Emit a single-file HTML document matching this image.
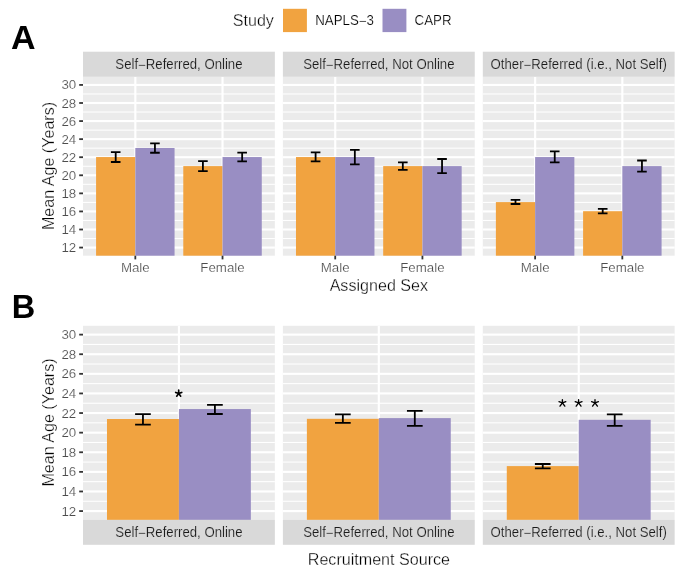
<!DOCTYPE html><html><head><meta charset="utf-8"><style>html,body{margin:0;padding:0;background:#fff;}svg{display:block;will-change:transform}text{font-family:"Liberation Sans",sans-serif;}text.w{stroke:#fff;stroke-width:0.3px}text.t{stroke:#fff;stroke-width:0.18px}text.g{stroke:#d9d9d9;stroke-width:0.18px}</style></head><body>
<svg width="685" height="565" viewBox="0 0 685 565">
<rect width="685" height="565" fill="#fff"/>
<text x="273.9" y="26.2" font-size="16.1" text-anchor="end" fill="#000" class="w">Study</text>
<rect x="283.0" y="8.8" width="23.9" height="23.3" fill="#f1a340"/>
<text transform="translate(315.2 25.0) scale(1 1.06)" font-size="13.3" fill="#000" class="t">NAPLS<tspan dy="0.75">−</tspan><tspan dy="-0.75">3</tspan></text>
<rect x="382.5" y="8.8" width="23.9" height="23.3" fill="#998ec3"/>
<text transform="translate(414.6 25.0) scale(1 1.06)" font-size="13.3" fill="#000" class="t">CAPR</text>
<text x="23.35" y="48.9" font-size="33.2" font-weight="bold" fill="#000" text-anchor="middle" transform="translate(23.35 0) scale(1.025 1) translate(-23.35 0)">A</text>
<text x="11.8" y="317.7" font-size="32.5" font-weight="bold" fill="#000">B</text>
<rect x="83.0" y="76.8" width="191.85" height="178.89999999999998" fill="#ebebeb"/>
<rect x="83.0" y="238.00" width="191.85" height="1.06" fill="#fff"/>
<rect x="83.0" y="219.93" width="191.85" height="1.06" fill="#fff"/>
<rect x="83.0" y="201.86" width="191.85" height="1.06" fill="#fff"/>
<rect x="83.0" y="183.79" width="191.85" height="1.06" fill="#fff"/>
<rect x="83.0" y="165.72" width="191.85" height="1.06" fill="#fff"/>
<rect x="83.0" y="147.65" width="191.85" height="1.06" fill="#fff"/>
<rect x="83.0" y="129.58" width="191.85" height="1.06" fill="#fff"/>
<rect x="83.0" y="111.51" width="191.85" height="1.06" fill="#fff"/>
<rect x="83.0" y="93.44" width="191.85" height="1.06" fill="#fff"/>
<rect x="83.0" y="246.51" width="191.85" height="2.13" fill="#fff"/>
<rect x="83.0" y="228.44" width="191.85" height="2.13" fill="#fff"/>
<rect x="83.0" y="210.37" width="191.85" height="2.13" fill="#fff"/>
<rect x="83.0" y="192.30" width="191.85" height="2.13" fill="#fff"/>
<rect x="83.0" y="174.23" width="191.85" height="2.13" fill="#fff"/>
<rect x="83.0" y="156.15" width="191.85" height="2.13" fill="#fff"/>
<rect x="83.0" y="138.08" width="191.85" height="2.13" fill="#fff"/>
<rect x="83.0" y="120.01" width="191.85" height="2.13" fill="#fff"/>
<rect x="83.0" y="101.94" width="191.85" height="2.13" fill="#fff"/>
<rect x="83.0" y="83.87" width="191.85" height="2.13" fill="#fff"/>
<rect x="134.26" y="76.8" width="2.13" height="178.89999999999998" fill="#fff"/>
<rect x="221.47" y="76.8" width="2.13" height="178.89999999999998" fill="#fff"/>
<rect x="96.08" y="157.05" width="39.24" height="98.65" fill="#f1a340"/>
<rect x="135.32" y="148.00" width="39.24" height="107.70" fill="#998ec3"/>
<rect x="183.29" y="166.10" width="39.24" height="89.60" fill="#f1a340"/>
<rect x="222.53" y="157.05" width="39.24" height="98.65" fill="#998ec3"/>
<path d="M110.90 152.20H120.50M115.70 152.20V162.00M110.90 162.00H120.50" stroke="#000" stroke-width="1.8" fill="none"/>
<path d="M150.14 143.40H159.74M154.94 143.40V152.75M150.14 152.75H159.74" stroke="#000" stroke-width="1.8" fill="none"/>
<path d="M198.11 161.10H207.71M202.91 161.10V171.10M198.11 171.10H207.71" stroke="#000" stroke-width="1.8" fill="none"/>
<path d="M237.35 152.60H246.95M242.15 152.60V161.30M237.35 161.30H246.95" stroke="#000" stroke-width="1.8" fill="none"/>
<rect x="83.0" y="51.7" width="191.85" height="25.099999999999994" fill="#d9d9d9"/>
<text transform="translate(178.93 68.95) scale(1 1.1)" font-size="13.2" text-anchor="middle" fill="#1a1a1a" class="g">Self<tspan dy="0.75">−</tspan><tspan dy="-0.75">Referred, Online</tspan></text>
<rect x="134.42" y="255.7" width="1.8" height="3.7" fill="#333"/>
<text x="135.32" y="272.1" font-size="13.3" text-anchor="middle" fill="#4d4d4d" class="t">Male</text>
<rect x="221.63" y="255.7" width="1.8" height="3.7" fill="#333"/>
<text x="222.53" y="272.1" font-size="13.3" text-anchor="middle" fill="#4d4d4d" class="t">Female</text>
<rect x="79.2" y="246.67" width="3.8" height="1.8" fill="#333"/>
<text x="76.2" y="252.07" font-size="13.3" text-anchor="end" fill="#4d4d4d" class="t">12</text>
<rect x="79.2" y="228.60" width="3.8" height="1.8" fill="#333"/>
<text x="76.2" y="234.00" font-size="13.3" text-anchor="end" fill="#4d4d4d" class="t">14</text>
<rect x="79.2" y="210.53" width="3.8" height="1.8" fill="#333"/>
<text x="76.2" y="215.93" font-size="13.3" text-anchor="end" fill="#4d4d4d" class="t">16</text>
<rect x="79.2" y="192.46" width="3.8" height="1.8" fill="#333"/>
<text x="76.2" y="197.86" font-size="13.3" text-anchor="end" fill="#4d4d4d" class="t">18</text>
<rect x="79.2" y="174.39" width="3.8" height="1.8" fill="#333"/>
<text x="76.2" y="179.79" font-size="13.3" text-anchor="end" fill="#4d4d4d" class="t">20</text>
<rect x="79.2" y="156.31" width="3.8" height="1.8" fill="#333"/>
<text x="76.2" y="161.71" font-size="13.3" text-anchor="end" fill="#4d4d4d" class="t">22</text>
<rect x="79.2" y="138.24" width="3.8" height="1.8" fill="#333"/>
<text x="76.2" y="143.64" font-size="13.3" text-anchor="end" fill="#4d4d4d" class="t">24</text>
<rect x="79.2" y="120.17" width="3.8" height="1.8" fill="#333"/>
<text x="76.2" y="125.57" font-size="13.3" text-anchor="end" fill="#4d4d4d" class="t">26</text>
<rect x="79.2" y="102.10" width="3.8" height="1.8" fill="#333"/>
<text x="76.2" y="107.50" font-size="13.3" text-anchor="end" fill="#4d4d4d" class="t">28</text>
<rect x="79.2" y="84.03" width="3.8" height="1.8" fill="#333"/>
<text x="76.2" y="89.43" font-size="13.3" text-anchor="end" fill="#4d4d4d" class="t">30</text>
<rect x="282.9" y="76.8" width="191.85" height="178.89999999999998" fill="#ebebeb"/>
<rect x="282.9" y="238.00" width="191.85" height="1.06" fill="#fff"/>
<rect x="282.9" y="219.93" width="191.85" height="1.06" fill="#fff"/>
<rect x="282.9" y="201.86" width="191.85" height="1.06" fill="#fff"/>
<rect x="282.9" y="183.79" width="191.85" height="1.06" fill="#fff"/>
<rect x="282.9" y="165.72" width="191.85" height="1.06" fill="#fff"/>
<rect x="282.9" y="147.65" width="191.85" height="1.06" fill="#fff"/>
<rect x="282.9" y="129.58" width="191.85" height="1.06" fill="#fff"/>
<rect x="282.9" y="111.51" width="191.85" height="1.06" fill="#fff"/>
<rect x="282.9" y="93.44" width="191.85" height="1.06" fill="#fff"/>
<rect x="282.9" y="246.51" width="191.85" height="2.13" fill="#fff"/>
<rect x="282.9" y="228.44" width="191.85" height="2.13" fill="#fff"/>
<rect x="282.9" y="210.37" width="191.85" height="2.13" fill="#fff"/>
<rect x="282.9" y="192.30" width="191.85" height="2.13" fill="#fff"/>
<rect x="282.9" y="174.23" width="191.85" height="2.13" fill="#fff"/>
<rect x="282.9" y="156.15" width="191.85" height="2.13" fill="#fff"/>
<rect x="282.9" y="138.08" width="191.85" height="2.13" fill="#fff"/>
<rect x="282.9" y="120.01" width="191.85" height="2.13" fill="#fff"/>
<rect x="282.9" y="101.94" width="191.85" height="2.13" fill="#fff"/>
<rect x="282.9" y="83.87" width="191.85" height="2.13" fill="#fff"/>
<rect x="334.16" y="76.8" width="2.13" height="178.89999999999998" fill="#fff"/>
<rect x="421.37" y="76.8" width="2.13" height="178.89999999999998" fill="#fff"/>
<rect x="295.98" y="157.05" width="39.24" height="98.65" fill="#f1a340"/>
<rect x="335.22" y="157.05" width="39.24" height="98.65" fill="#998ec3"/>
<rect x="383.19" y="166.10" width="39.24" height="89.60" fill="#f1a340"/>
<rect x="422.43" y="166.10" width="39.24" height="89.60" fill="#998ec3"/>
<path d="M310.80 152.40H320.40M315.60 152.40V161.30M310.80 161.30H320.40" stroke="#000" stroke-width="1.8" fill="none"/>
<path d="M350.04 149.90H359.64M354.84 149.90V164.40M350.04 164.40H359.64" stroke="#000" stroke-width="1.8" fill="none"/>
<path d="M398.01 162.30H407.61M402.81 162.30V169.90M398.01 169.90H407.61" stroke="#000" stroke-width="1.8" fill="none"/>
<path d="M437.25 159.00H446.85M442.05 159.00V173.10M437.25 173.10H446.85" stroke="#000" stroke-width="1.8" fill="none"/>
<rect x="282.9" y="51.7" width="191.85" height="25.099999999999994" fill="#d9d9d9"/>
<text transform="translate(378.82 68.95) scale(1 1.1)" font-size="13.2" text-anchor="middle" fill="#1a1a1a" class="g">Self<tspan dy="0.75">−</tspan><tspan dy="-0.75">Referred, Not Online</tspan></text>
<rect x="334.32" y="255.7" width="1.8" height="3.7" fill="#333"/>
<text x="335.22" y="272.1" font-size="13.3" text-anchor="middle" fill="#4d4d4d" class="t">Male</text>
<rect x="421.53" y="255.7" width="1.8" height="3.7" fill="#333"/>
<text x="422.43" y="272.1" font-size="13.3" text-anchor="middle" fill="#4d4d4d" class="t">Female</text>
<rect x="482.8" y="76.8" width="191.85" height="178.89999999999998" fill="#ebebeb"/>
<rect x="482.8" y="238.00" width="191.85" height="1.06" fill="#fff"/>
<rect x="482.8" y="219.93" width="191.85" height="1.06" fill="#fff"/>
<rect x="482.8" y="201.86" width="191.85" height="1.06" fill="#fff"/>
<rect x="482.8" y="183.79" width="191.85" height="1.06" fill="#fff"/>
<rect x="482.8" y="165.72" width="191.85" height="1.06" fill="#fff"/>
<rect x="482.8" y="147.65" width="191.85" height="1.06" fill="#fff"/>
<rect x="482.8" y="129.58" width="191.85" height="1.06" fill="#fff"/>
<rect x="482.8" y="111.51" width="191.85" height="1.06" fill="#fff"/>
<rect x="482.8" y="93.44" width="191.85" height="1.06" fill="#fff"/>
<rect x="482.8" y="246.51" width="191.85" height="2.13" fill="#fff"/>
<rect x="482.8" y="228.44" width="191.85" height="2.13" fill="#fff"/>
<rect x="482.8" y="210.37" width="191.85" height="2.13" fill="#fff"/>
<rect x="482.8" y="192.30" width="191.85" height="2.13" fill="#fff"/>
<rect x="482.8" y="174.23" width="191.85" height="2.13" fill="#fff"/>
<rect x="482.8" y="156.15" width="191.85" height="2.13" fill="#fff"/>
<rect x="482.8" y="138.08" width="191.85" height="2.13" fill="#fff"/>
<rect x="482.8" y="120.01" width="191.85" height="2.13" fill="#fff"/>
<rect x="482.8" y="101.94" width="191.85" height="2.13" fill="#fff"/>
<rect x="482.8" y="83.87" width="191.85" height="2.13" fill="#fff"/>
<rect x="534.06" y="76.8" width="2.13" height="178.89999999999998" fill="#fff"/>
<rect x="621.27" y="76.8" width="2.13" height="178.89999999999998" fill="#fff"/>
<rect x="495.88" y="202.10" width="39.24" height="53.60" fill="#f1a340"/>
<rect x="535.12" y="157.05" width="39.24" height="98.65" fill="#998ec3"/>
<rect x="583.09" y="211.20" width="39.24" height="44.50" fill="#f1a340"/>
<rect x="622.33" y="166.10" width="39.24" height="89.60" fill="#998ec3"/>
<path d="M510.70 199.90H520.30M515.50 199.90V204.00M510.70 204.00H520.30" stroke="#000" stroke-width="1.8" fill="none"/>
<path d="M549.94 151.30H559.54M554.74 151.30V162.40M549.94 162.40H559.54" stroke="#000" stroke-width="1.8" fill="none"/>
<path d="M597.91 208.90H607.51M602.71 208.90V213.30M597.91 213.30H607.51" stroke="#000" stroke-width="1.8" fill="none"/>
<path d="M637.15 160.50H646.75M641.95 160.50V171.70M637.15 171.70H646.75" stroke="#000" stroke-width="1.8" fill="none"/>
<rect x="482.8" y="51.7" width="191.85" height="25.099999999999994" fill="#d9d9d9"/>
<text transform="translate(578.73 68.95) scale(1 1.1)" font-size="13.2" text-anchor="middle" fill="#1a1a1a" class="g">Other<tspan dy="0.75">−</tspan><tspan dy="-0.75">Referred (i.e., Not Self)</tspan></text>
<rect x="534.22" y="255.7" width="1.8" height="3.7" fill="#333"/>
<text x="535.12" y="272.1" font-size="13.3" text-anchor="middle" fill="#4d4d4d" class="t">Male</text>
<rect x="621.43" y="255.7" width="1.8" height="3.7" fill="#333"/>
<text x="622.33" y="272.1" font-size="13.3" text-anchor="middle" fill="#4d4d4d" class="t">Female</text>
<rect x="83.0" y="325.8" width="191.85" height="194.09999999999997" fill="#ebebeb"/>
<rect x="83.0" y="500.74" width="191.85" height="1.06" fill="#fff"/>
<rect x="83.0" y="481.14" width="191.85" height="1.06" fill="#fff"/>
<rect x="83.0" y="461.53" width="191.85" height="1.06" fill="#fff"/>
<rect x="83.0" y="441.93" width="191.85" height="1.06" fill="#fff"/>
<rect x="83.0" y="422.32" width="191.85" height="1.06" fill="#fff"/>
<rect x="83.0" y="402.71" width="191.85" height="1.06" fill="#fff"/>
<rect x="83.0" y="383.11" width="191.85" height="1.06" fill="#fff"/>
<rect x="83.0" y="363.50" width="191.85" height="1.06" fill="#fff"/>
<rect x="83.0" y="343.90" width="191.85" height="1.06" fill="#fff"/>
<rect x="83.0" y="510.02" width="191.85" height="2.13" fill="#fff"/>
<rect x="83.0" y="490.41" width="191.85" height="2.13" fill="#fff"/>
<rect x="83.0" y="470.81" width="191.85" height="2.13" fill="#fff"/>
<rect x="83.0" y="451.20" width="191.85" height="2.13" fill="#fff"/>
<rect x="83.0" y="431.59" width="191.85" height="2.13" fill="#fff"/>
<rect x="83.0" y="411.99" width="191.85" height="2.13" fill="#fff"/>
<rect x="83.0" y="392.38" width="191.85" height="2.13" fill="#fff"/>
<rect x="83.0" y="372.77" width="191.85" height="2.13" fill="#fff"/>
<rect x="83.0" y="353.17" width="191.85" height="2.13" fill="#fff"/>
<rect x="83.0" y="333.56" width="191.85" height="2.13" fill="#fff"/>
<rect x="177.86" y="325.8" width="2.13" height="194.09999999999997" fill="#fff"/>
<rect x="106.98" y="419.00" width="71.94" height="100.90" fill="#f1a340"/>
<rect x="178.92" y="409.05" width="71.94" height="110.85" fill="#998ec3"/>
<path d="M135.10 414.05H150.80M142.95 414.05V424.70M135.10 424.70H150.80" stroke="#000" stroke-width="1.8" fill="none"/>
<path d="M207.05 404.80H222.75M214.90 404.80V414.00M207.05 414.00H222.75" stroke="#000" stroke-width="1.8" fill="none"/>
<rect x="83.0" y="519.9" width="191.85" height="24.899999999999977" fill="#d9d9d9"/>
<text transform="translate(178.93 537.05) scale(1 1.1)" font-size="13.2" text-anchor="middle" fill="#1a1a1a" class="g">Self<tspan dy="0.75">−</tspan><tspan dy="-0.75">Referred, Online</tspan></text>
<rect x="79.2" y="510.18" width="3.8" height="1.8" fill="#333"/>
<text x="76.2" y="515.58" font-size="13.3" text-anchor="end" fill="#4d4d4d" class="t">12</text>
<rect x="79.2" y="490.57" width="3.8" height="1.8" fill="#333"/>
<text x="76.2" y="495.97" font-size="13.3" text-anchor="end" fill="#4d4d4d" class="t">14</text>
<rect x="79.2" y="470.97" width="3.8" height="1.8" fill="#333"/>
<text x="76.2" y="476.37" font-size="13.3" text-anchor="end" fill="#4d4d4d" class="t">16</text>
<rect x="79.2" y="451.36" width="3.8" height="1.8" fill="#333"/>
<text x="76.2" y="456.76" font-size="13.3" text-anchor="end" fill="#4d4d4d" class="t">18</text>
<rect x="79.2" y="431.75" width="3.8" height="1.8" fill="#333"/>
<text x="76.2" y="437.15" font-size="13.3" text-anchor="end" fill="#4d4d4d" class="t">20</text>
<rect x="79.2" y="412.15" width="3.8" height="1.8" fill="#333"/>
<text x="76.2" y="417.55" font-size="13.3" text-anchor="end" fill="#4d4d4d" class="t">22</text>
<rect x="79.2" y="392.54" width="3.8" height="1.8" fill="#333"/>
<text x="76.2" y="397.94" font-size="13.3" text-anchor="end" fill="#4d4d4d" class="t">24</text>
<rect x="79.2" y="372.93" width="3.8" height="1.8" fill="#333"/>
<text x="76.2" y="378.33" font-size="13.3" text-anchor="end" fill="#4d4d4d" class="t">26</text>
<rect x="79.2" y="353.33" width="3.8" height="1.8" fill="#333"/>
<text x="76.2" y="358.73" font-size="13.3" text-anchor="end" fill="#4d4d4d" class="t">28</text>
<rect x="79.2" y="333.72" width="3.8" height="1.8" fill="#333"/>
<text x="76.2" y="339.12" font-size="13.3" text-anchor="end" fill="#4d4d4d" class="t">30</text>
<rect x="282.9" y="325.8" width="191.85" height="194.09999999999997" fill="#ebebeb"/>
<rect x="282.9" y="500.74" width="191.85" height="1.06" fill="#fff"/>
<rect x="282.9" y="481.14" width="191.85" height="1.06" fill="#fff"/>
<rect x="282.9" y="461.53" width="191.85" height="1.06" fill="#fff"/>
<rect x="282.9" y="441.93" width="191.85" height="1.06" fill="#fff"/>
<rect x="282.9" y="422.32" width="191.85" height="1.06" fill="#fff"/>
<rect x="282.9" y="402.71" width="191.85" height="1.06" fill="#fff"/>
<rect x="282.9" y="383.11" width="191.85" height="1.06" fill="#fff"/>
<rect x="282.9" y="363.50" width="191.85" height="1.06" fill="#fff"/>
<rect x="282.9" y="343.90" width="191.85" height="1.06" fill="#fff"/>
<rect x="282.9" y="510.02" width="191.85" height="2.13" fill="#fff"/>
<rect x="282.9" y="490.41" width="191.85" height="2.13" fill="#fff"/>
<rect x="282.9" y="470.81" width="191.85" height="2.13" fill="#fff"/>
<rect x="282.9" y="451.20" width="191.85" height="2.13" fill="#fff"/>
<rect x="282.9" y="431.59" width="191.85" height="2.13" fill="#fff"/>
<rect x="282.9" y="411.99" width="191.85" height="2.13" fill="#fff"/>
<rect x="282.9" y="392.38" width="191.85" height="2.13" fill="#fff"/>
<rect x="282.9" y="372.77" width="191.85" height="2.13" fill="#fff"/>
<rect x="282.9" y="353.17" width="191.85" height="2.13" fill="#fff"/>
<rect x="282.9" y="333.56" width="191.85" height="2.13" fill="#fff"/>
<rect x="377.76" y="325.8" width="2.13" height="194.09999999999997" fill="#fff"/>
<rect x="306.88" y="418.80" width="71.94" height="101.10" fill="#f1a340"/>
<rect x="378.82" y="418.10" width="71.94" height="101.80" fill="#998ec3"/>
<path d="M335.00 414.40H350.70M342.85 414.40V422.90M335.00 422.90H350.70" stroke="#000" stroke-width="1.8" fill="none"/>
<path d="M406.95 410.80H422.65M414.80 410.80V425.90M406.95 425.90H422.65" stroke="#000" stroke-width="1.8" fill="none"/>
<rect x="282.9" y="519.9" width="191.85" height="24.899999999999977" fill="#d9d9d9"/>
<text transform="translate(378.82 537.05) scale(1 1.1)" font-size="13.2" text-anchor="middle" fill="#1a1a1a" class="g">Self<tspan dy="0.75">−</tspan><tspan dy="-0.75">Referred, Not Online</tspan></text>
<rect x="482.8" y="325.8" width="191.85" height="194.09999999999997" fill="#ebebeb"/>
<rect x="482.8" y="500.74" width="191.85" height="1.06" fill="#fff"/>
<rect x="482.8" y="481.14" width="191.85" height="1.06" fill="#fff"/>
<rect x="482.8" y="461.53" width="191.85" height="1.06" fill="#fff"/>
<rect x="482.8" y="441.93" width="191.85" height="1.06" fill="#fff"/>
<rect x="482.8" y="422.32" width="191.85" height="1.06" fill="#fff"/>
<rect x="482.8" y="402.71" width="191.85" height="1.06" fill="#fff"/>
<rect x="482.8" y="383.11" width="191.85" height="1.06" fill="#fff"/>
<rect x="482.8" y="363.50" width="191.85" height="1.06" fill="#fff"/>
<rect x="482.8" y="343.90" width="191.85" height="1.06" fill="#fff"/>
<rect x="482.8" y="510.02" width="191.85" height="2.13" fill="#fff"/>
<rect x="482.8" y="490.41" width="191.85" height="2.13" fill="#fff"/>
<rect x="482.8" y="470.81" width="191.85" height="2.13" fill="#fff"/>
<rect x="482.8" y="451.20" width="191.85" height="2.13" fill="#fff"/>
<rect x="482.8" y="431.59" width="191.85" height="2.13" fill="#fff"/>
<rect x="482.8" y="411.99" width="191.85" height="2.13" fill="#fff"/>
<rect x="482.8" y="392.38" width="191.85" height="2.13" fill="#fff"/>
<rect x="482.8" y="372.77" width="191.85" height="2.13" fill="#fff"/>
<rect x="482.8" y="353.17" width="191.85" height="2.13" fill="#fff"/>
<rect x="482.8" y="333.56" width="191.85" height="2.13" fill="#fff"/>
<rect x="577.67" y="325.8" width="2.13" height="194.09999999999997" fill="#fff"/>
<rect x="506.78" y="466.10" width="71.94" height="53.80" fill="#f1a340"/>
<rect x="578.73" y="419.80" width="71.94" height="100.10" fill="#998ec3"/>
<path d="M534.90 464.00H550.60M542.75 464.00V468.30M534.90 468.30H550.60" stroke="#000" stroke-width="1.8" fill="none"/>
<path d="M606.85 414.40H622.55M614.70 414.40V425.80M606.85 425.80H622.55" stroke="#000" stroke-width="1.8" fill="none"/>
<rect x="482.8" y="519.9" width="191.85" height="24.899999999999977" fill="#d9d9d9"/>
<text transform="translate(578.73 537.05) scale(1 1.1)" font-size="13.2" text-anchor="middle" fill="#1a1a1a" class="g">Other<tspan dy="0.75">−</tspan><tspan dy="-0.75">Referred (i.e., Not Self)</tspan></text>
<path d="M178.70 393.40L178.70 390.10M178.70 393.40L181.74 392.41M178.70 393.40L180.70 396.15M178.70 393.40L176.70 396.15M178.70 393.40L175.66 392.41" stroke="#000" stroke-width="1.65" stroke-linecap="round" fill="none"/>
<path d="M562.40 402.80L562.40 399.70M562.40 402.80L565.82 401.69M562.40 402.80L564.81 406.12M562.40 402.80L559.99 406.12M562.40 402.80L558.98 401.69" stroke="#000" stroke-width="1.35" stroke-linecap="round" fill="none"/>
<path d="M578.60 402.80L578.60 399.70M578.60 402.80L582.02 401.69M578.60 402.80L581.01 406.12M578.60 402.80L576.19 406.12M578.60 402.80L575.18 401.69" stroke="#000" stroke-width="1.35" stroke-linecap="round" fill="none"/>
<path d="M595.00 402.80L595.00 399.70M595.00 402.80L598.42 401.69M595.00 402.80L597.41 406.12M595.00 402.80L592.59 406.12M595.00 402.80L591.58 401.69" stroke="#000" stroke-width="1.35" stroke-linecap="round" fill="none"/>
<text x="378.85" y="290.5" font-size="16.1" text-anchor="middle" fill="#000" class="w">Assigned Sex</text>
<text x="378.9" y="564.5" font-size="16.1" text-anchor="middle" fill="#000" class="w">Recruitment Source</text>
<text transform="translate(54.0,166.0) rotate(-90)" font-size="16.1" text-anchor="middle" fill="#000" class="w">Mean Age (Years)</text>
<text transform="translate(54.0,422.5) rotate(-90)" font-size="16.1" text-anchor="middle" fill="#000" class="w">Mean Age (Years)</text>
</svg></body></html>
